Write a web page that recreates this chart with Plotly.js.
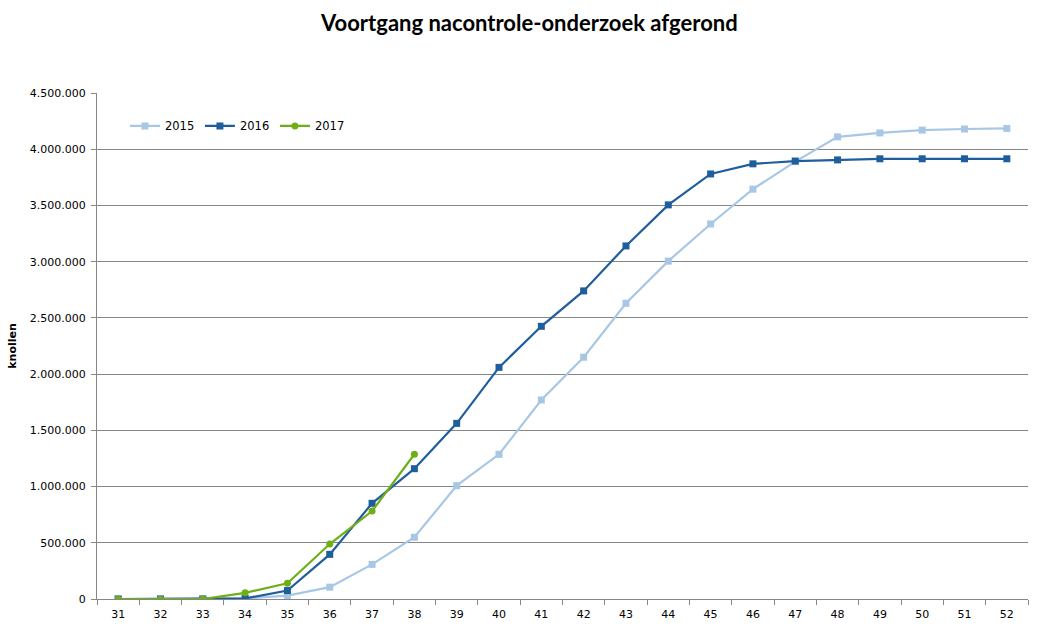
<!DOCTYPE html>
<html>
<head>
<meta charset="utf-8">
<script src="https://cdn.plot.ly/plotly-3.0.1.min.js"></script>
<style>html,body{margin:0;padding:0;background:#fff;}#chart{width:1038px;height:630px;}</style>
</head>
<body>
<div id="chart"></div>
<script>
const weeks = ["31","32","33","34","35","36","37","38","39","40","41","42","43","44","45","46","47","48","49","50","51","52"];
const y2015 = [0,0,0,5000,30000,105000,308000,549000,1008000,1287000,1770000,2150000,2630000,3005000,3335000,3645000,3890000,4110000,4145000,4170000,4180000,4185000];
const y2016 = [0,0,0,5000,75000,397000,851000,1159000,1562000,2060000,2425000,2740000,3140000,3505000,3780000,3870000,3895000,3905000,3915000,3915000,3915000,3915000];
const weeks2017 = ["31","32","33","34","35","36","37","38"];
const y2017 = [0,0,0,55000,140000,489000,782000,1287000];
const yTicks = [0,500000,1000000,1500000,2000000,2500000,3000000,3500000,4000000,4500000];

const traces = [
  {x: weeks, y: y2015, name: "2015", type: "scatter", mode: "lines+markers",
   line: {color: "#A7C7E5", width: 2.2}, marker: {symbol: "square", size: 7, color: "#A7C7E5"}},
  {x: weeks, y: y2016, name: "2016", type: "scatter", mode: "lines+markers",
   line: {color: "#1F5E9C", width: 2.2}, marker: {symbol: "square", size: 7, color: "#1F5E9C"}},
  {x: weeks2017, y: y2017, name: "2017", type: "scatter", mode: "lines+markers",
   line: {color: "#6EAF17", width: 2.2}, marker: {symbol: "circle", size: 7, color: "#6EAF17"}}
];

const layout = {
  width: 1038, height: 630,
  margin: {l: 97, r: 10, t: 93, b: 31},
  paper_bgcolor: "#fff", plot_bgcolor: "#fff",
  separators: ",.",
  title: {text: "<b>Voortgang nacontrole-onderzoek afgerond</b>", x: 0.51, xanchor: "center", y: 0.963, yanchor: "middle",
          font: {family: "Lato, 'Open Sans', sans-serif", size: 22, color: "#000"}},
  showlegend: true,
  legend: {orientation: "h", x: 0.03, y: 0.935, xanchor: "left", yanchor: "middle",
           font: {family: "'DejaVu Sans', Verdana, sans-serif", size: 11.5, color: "#000"},
           bgcolor: "rgba(0,0,0,0)", entrywidth: 30, itemwidth: 30},
  xaxis: {type: "category", range: [-0.5, 21.5], showgrid: false, showline: true, linecolor: "#868686", linewidth: 1,
          ticks: "outside", tickson: "boundaries", ticklen: 5, tickcolor: "#868686", ticklabelstandoff: 5,
          tickfont: {family: "'DejaVu Sans', Verdana, sans-serif", size: 11, color: "#000"}, zeroline: false, fixedrange: true},
  yaxis: {range: [0, 4500000], tickvals: yTicks, tickformat: ",d", showgrid: true, gridcolor: "#868686", gridwidth: 1,
          showline: true, linecolor: "#868686", linewidth: 1, ticks: "outside", ticklen: 5, tickcolor: "#868686", ticklabelstandoff: 3,
          tickfont: {family: "'DejaVu Sans', Verdana, sans-serif", size: 11, color: "#000"}, zeroline: false,
          title: {text: "<b>knollen</b>", standoff: 10, font: {family: "'DejaVu Sans', Verdana, sans-serif", size: 11, color: "#000"}}}
};

Plotly.newPlot("chart", traces, layout, {displayModeBar: false, staticPlot: true});
</script>
</body>
</html>
